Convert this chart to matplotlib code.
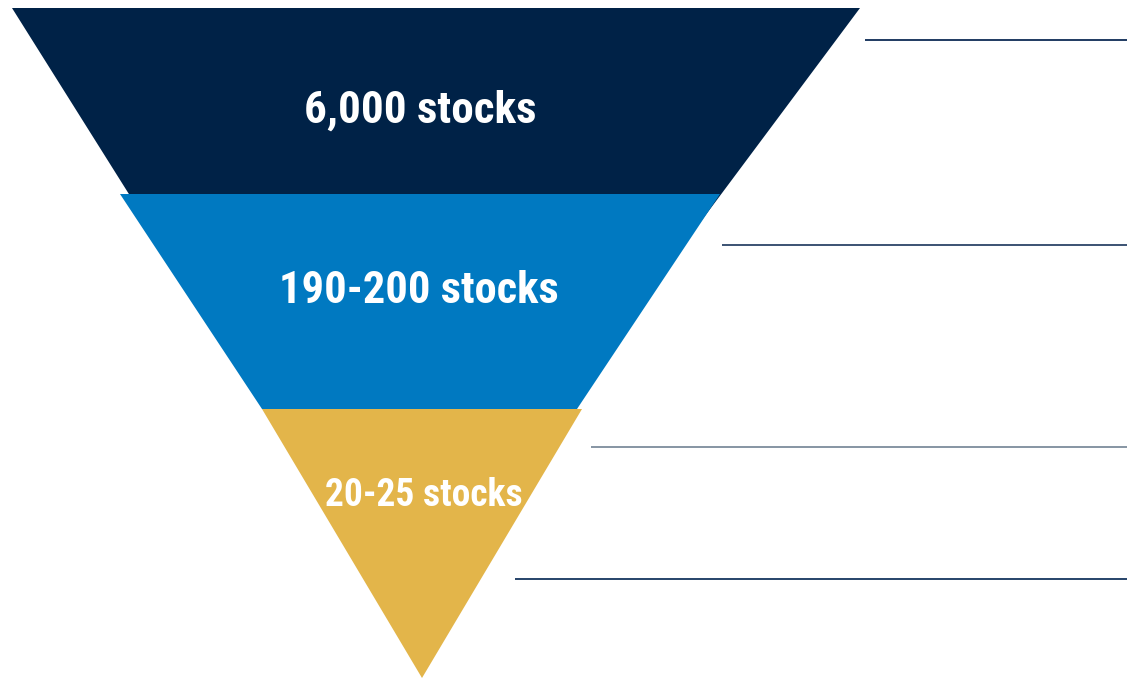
import matplotlib
matplotlib.use("Agg")
import matplotlib.pyplot as plt
from matplotlib.patches import Polygon

# funnel stages, top to bottom
labels = ["6,000 stocks", "190-200 stocks", "20-25 stocks"]
colors = ["#002247", "#0079c1", "#e3b54a"]
font_sizes = [32.5, 32, 27]
label_pos = [(420, 111), (419, 291), (424, 495)]

# outline of each stage (pixel space, y down)
stage_shapes = [
    [(12, 8), (860, 8), (561, 409), (264, 409)],
    [(120, 194), (720, 194), (577, 409), (262, 409)],
    [(262, 409), (582, 409), (422, 678)],
]

# divider lines on the right
line_y = [40, 245, 447, 579]
line_x0 = [865, 722, 591, 515]
line_colors = ["#0d2b55", "#2c4468", "#7d8c9c", "#15355e"]

fig = plt.figure(figsize=(11.27, 6.78), dpi=100)
ax = fig.add_axes([0, 0, 1, 1])
ax.set_xlim(0, 1127)
ax.set_ylim(678, 0)
ax.axis("off")

for shape, c in zip(stage_shapes, colors):
    ax.add_patch(Polygon(shape, closed=True, facecolor=c, edgecolor="none"))

for y, x0, c in zip(line_y, line_x0, line_colors):
    ax.plot([x0, 1127], [y, y], color=c, lw=1.3, solid_capstyle="butt")

for lab, (x, y), fs in zip(labels, label_pos, font_sizes):
    ax.text(x, y, lab, color="white", fontsize=fs, fontweight="bold",
            family=["Roboto Condensed", "Liberation Sans"], ha="center", va="center")

fig.savefig("out.png", dpi=100)
